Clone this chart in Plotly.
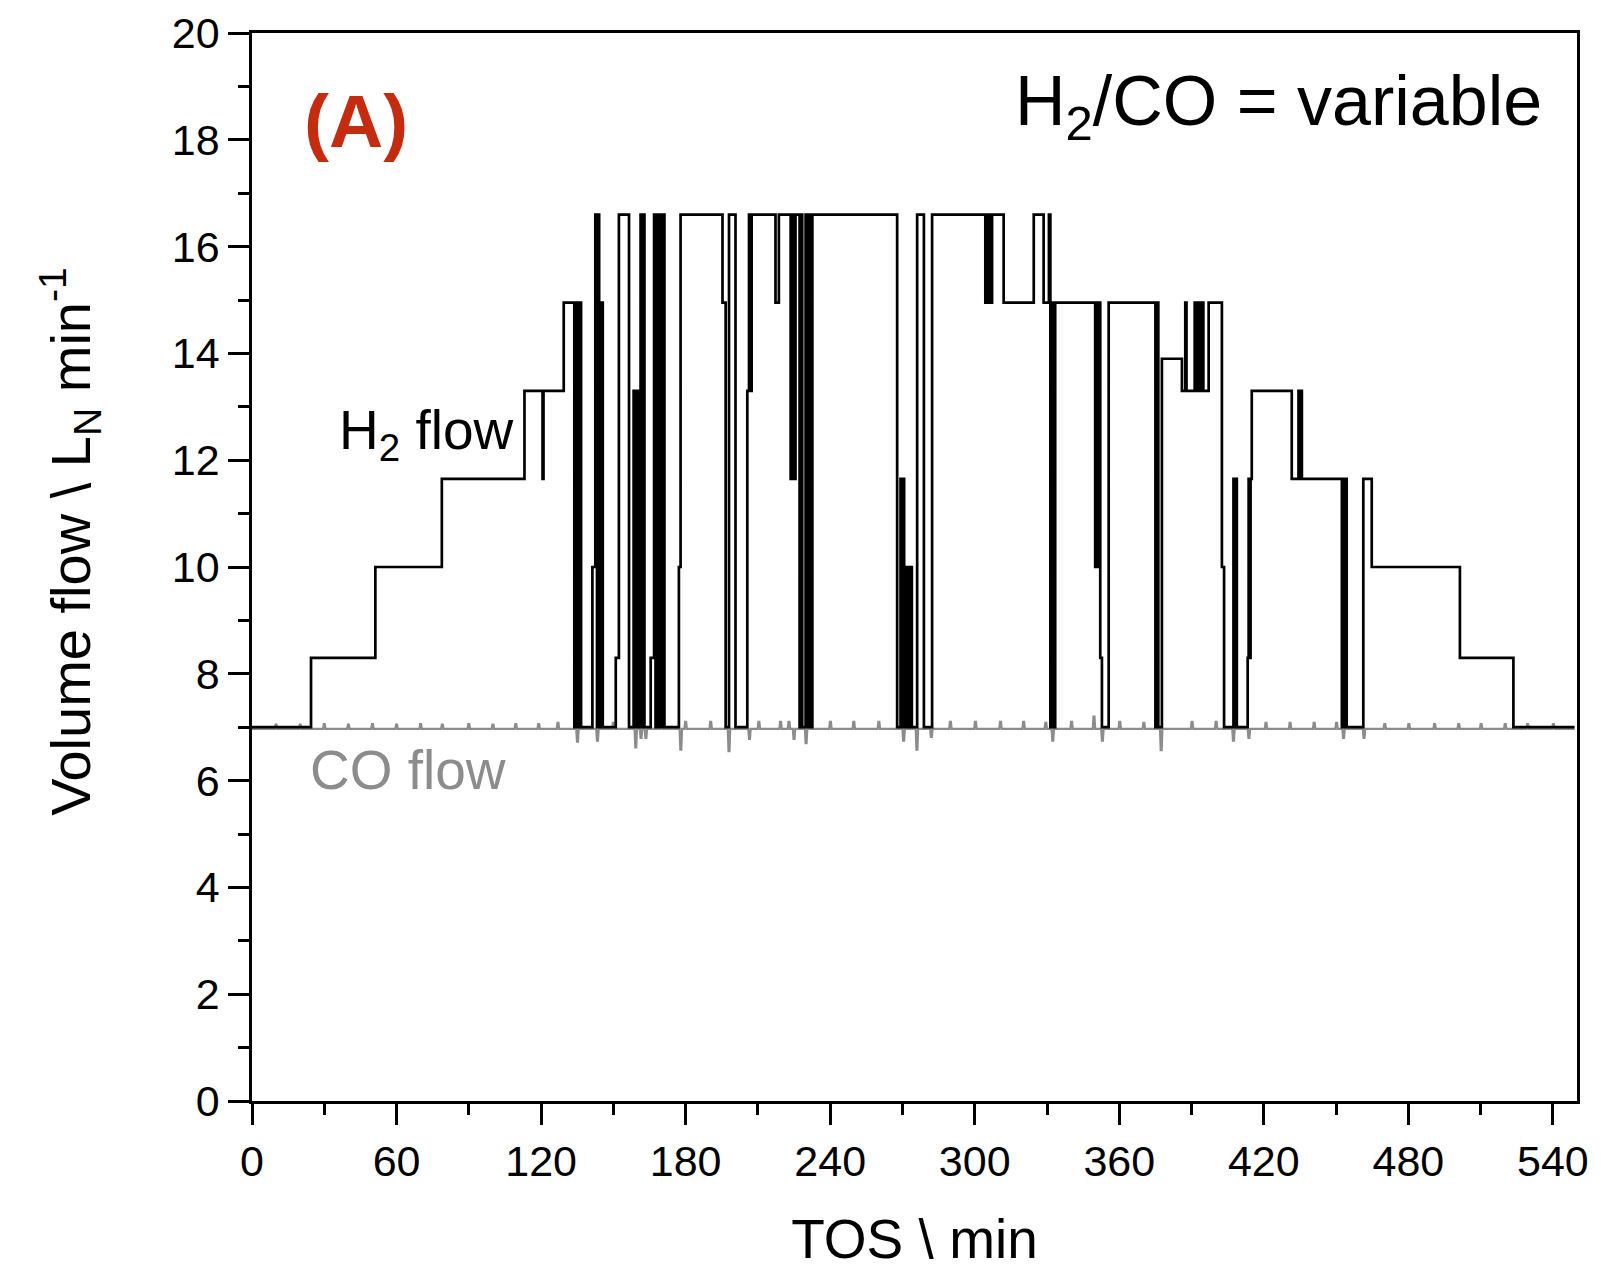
import plotly.graph_objects as go

# ---------------- data ----------------
# H2 flow: step changes (time in min, value in L_N/min valid from that time on)
h2_time = [0, 24.5, 51.2, 78.8, 113.1, 120.6, 121.0, 129.4,
           133.8, 134.5, 135.2, 135.9, 136.6,
           141.3, 142.5, 143.2, 143.6, 144.1, 144.6, 145.1, 145.6,
           151.0, 152.3, 156.5,
           158.4, 158.9, 159.4, 159.9, 160.4, 160.9,
           161.3, 162.0, 162.4, 162.9,
           165.5, 166.9, 167.5, 168.0, 169.0, 169.5, 170.4, 170.9, 171.2,
           177.2, 177.9,
           195.3, 196.6, 198.0, 200.7,
           205.6, 206.3, 206.8, 207.4,
           217.3, 218.7,
           223.6, 224.3, 224.9, 225.6,
           227.3, 227.9, 228.4, 229.8, 230.5, 231.2, 231.8, 232.6,
           267.8,
           269.2, 269.7, 270.2, 270.7, 271.3, 271.8, 272.3, 272.8, 273.3, 273.9,
           276.1, 278.9, 282.3,
           304.4, 305.0, 305.5, 306.1, 306.6, 307.2,
           312.0, 324.5, 328.6, 330.8, 331.4, 332.0, 332.6, 333.4,
           350.0, 350.5, 351.0, 351.5, 352.1, 352.8, 355.6,
           375.0, 375.6, 376.2, 377.7,
           386.0, 387.4, 387.9,
           391.3, 391.8, 392.3, 392.8, 393.3, 393.8, 394.4, 394.9,
           397.1, 402.6, 403.5,
           407.4, 407.9, 408.3, 408.8,
           413.3, 413.7, 414.1, 414.5, 415.0,
           431.6, 434.4, 434.9, 435.3, 435.8,
           452.4, 452.9, 453.4, 453.9, 454.4,
           461.3, 464.8, 501.4, 523.6, 549.0]
h2_flow = [7.0, 8.3, 10.0, 11.65, 13.3, 11.65, 13.3, 14.95,
           7.0, 14.95, 7.0, 14.95, 7.0,
           10.0, 16.6, 7.0, 16.6, 14.95, 7.0, 14.95, 7.0,
           8.3, 16.6, 7.0,
           13.3, 7.0, 13.3, 7.0, 13.3, 7.0,
           16.6, 7.0, 16.6, 7.0,
           8.3, 16.6, 7.0, 16.6, 7.0, 16.6, 7.0, 16.6, 7.0,
           10.0, 16.6,
           14.95, 7.0, 16.6, 7.0,
           13.3, 16.6, 13.3, 16.6,
           14.95, 16.6,
           11.65, 16.6, 11.65, 16.6,
           7.0, 16.6, 7.0, 16.6, 7.0, 16.6, 7.0, 16.6,
           7.0,
           11.65, 7.0, 11.65, 7.0, 10.0, 7.0, 10.0, 7.0, 10.0, 7.0,
           16.6, 7.0, 16.6,
           14.95, 16.6, 14.95, 16.6, 14.95, 16.6,
           14.95, 16.6, 14.95, 16.6, 7.0, 14.95, 7.0, 14.95,
           10.0, 14.95, 10.0, 14.95, 8.3, 7.0, 14.95,
           7.0, 14.95, 7.0, 13.9,
           13.3, 14.95, 13.3,
           14.95, 13.3, 14.95, 13.3, 14.95, 13.3, 14.95, 13.3,
           14.95, 10.0, 7.0,
           11.65, 7.0, 11.65, 7.0,
           8.3, 11.65, 8.3, 11.65, 13.3,
           11.65, 13.3, 11.65, 13.3, 11.65,
           7.0, 11.65, 7.0, 11.65, 7.0,
           11.65, 10.0, 8.3, 7.0, 7.0]

# CO flow: nearly constant with small upward bumps and downward spikes
co_base = 6.97
co_event_time = [10, 20, 30, 40, 50, 60, 70, 79, 90, 100, 109.5, 119, 127,
                 135.1, 143.4, 150, 159.3, 161.5, 163.5, 170, 178, 180, 190.4,
                 198, 206.5, 210.4, 219.4, 222.9, 225, 230, 240.1, 249.8,
                 260.2, 270.5, 276, 282, 289.9, 300.3, 310.7, 320.3, 329.5,
                 332.4, 340.2, 349.5, 353, 360.2, 370.2, 377.4, 390.2, 400.2,
                 407.4, 413.8, 420.9, 430.9, 440.9, 450.2, 453.1, 461.6,
                 470.2, 480.2, 490.9, 500.9, 510.2, 520.2, 529.5, 540.2]
co_event_flow = [7.05, 7.05, 7.06, 7.05, 7.06, 7.05, 7.06, 7.05, 7.06, 7.05, 7.06, 7.06, 7.08,
                 6.73, 6.75, 7.08, 6.62, 6.8, 6.8, 7.08, 6.58, 7.1, 7.1,
                 6.55, 6.78, 7.1, 7.1, 7.1, 6.78, 6.7, 7.1, 7.1,
                 7.1, 6.75, 6.58, 6.82, 7.1, 7.1, 7.1, 7.1, 7.08,
                 6.75, 7.1, 7.2, 6.75, 7.1, 7.08, 6.57, 7.1, 7.1,
                 6.75, 6.8, 7.08, 7.08, 7.08, 7.08, 6.8, 6.8,
                 7.06, 7.06, 7.06, 7.06, 7.06, 7.06, 7.06, 7.06]
co_start, co_end = 0, 549

x_ticks = [0, 60, 120, 180, 240, 300, 360, 420, 480, 540]
y_ticks = [0, 2, 4, 6, 8, 10, 12, 14, 16, 18, 20]

# ---------------- build CO polyline from the listed events ----------------
co_t, co_v = [co_start], [co_base]
for t, v in zip(co_event_time, co_event_flow):
    co_t += [t - 0.5, t - 0.2, t + 0.2, t + 0.5]
    co_v += [co_base, v, v, co_base]
co_t.append(co_end)
co_v.append(co_base)

FONT = "Liberation Sans, Arial, sans-serif"

fig = go.Figure()
fig.add_trace(go.Scatter(x=co_t, y=co_v, mode="lines",
                         line=dict(color="#8c8c8c", width=2.2), hoverinfo="skip",
                         showlegend=False))
fig.add_trace(go.Scatter(x=h2_time, y=h2_flow, mode="lines",
                         line=dict(color="black", width=2.7, shape="hv"),
                         showlegend=False))

axis_common = dict(
    showline=True, linecolor="black", linewidth=2.5, mirror=True,
    ticks="outside", ticklen=21, tickwidth=2.5, tickcolor="black",
    showgrid=False, zeroline=False,
    tickfont=dict(family=FONT, size=43, color="black"),
)

fig.update_xaxes(range=[0, 550], tickvals=x_ticks, ticktext=[str(v) for v in x_ticks],
                 minor=dict(dtick=30, tick0=0, ticks="outside", ticklen=11,
                            tickwidth=2.5, tickcolor="black"),
                 title=dict(text="TOS \\ min", font=dict(family=FONT, size=55, color="black"),
                            standoff=37),
                 **axis_common)
fig.update_yaxes(range=[0, 20], tickvals=y_ticks, ticktext=[str(v) for v in y_ticks],
                 minor=dict(dtick=1, tick0=0, ticks="outside", ticklen=11,
                            tickwidth=2.5, tickcolor="black"),
                 **axis_common)

# y-axis title as a rotated annotation (placed slightly above the axis centre, as in the reference)
fig.add_annotation(xref="paper", yref="paper", x=-0.137, y=0.524, xanchor="center", yanchor="middle",
                   text="Volume flow \\ L<sub>N</sub> min<sup>-1</sup>", textangle=-90,
                   showarrow=False, font=dict(family=FONT, size=56, color="black"))

fig.add_annotation(xref="paper", yref="paper", x=0.038, y=0.918, xanchor="left", yanchor="middle",
                   text="<b>(A)</b>", showarrow=False,
                   font=dict(family=FONT, size=75, color="#C52B0E"))
fig.add_annotation(xref="paper", yref="paper", x=0.975, y=0.932, xanchor="right", yanchor="middle",
                   text="H<sub>2</sub>/CO = variable", showarrow=False,
                   font=dict(family=FONT, size=70, color="black"))
fig.add_annotation(xref="paper", yref="paper", x=0.064, y=0.625, xanchor="left", yanchor="middle",
                   text="H<sub>2</sub> flow", showarrow=False,
                   font=dict(family=FONT, size=55, color="black"))
fig.add_annotation(xref="paper", yref="paper", x=0.042, y=0.31, xanchor="left", yanchor="middle",
                   text="CO flow", showarrow=False,
                   font=dict(family=FONT, size=55, color="#8c8c8c"))

fig.update_layout(width=1606, height=1262,
                  margin=dict(l=244, r=37, t=25, b=169, autoexpand=False),
                  paper_bgcolor="white", plot_bgcolor="white",
                  font=dict(family=FONT, color="black"))

fig.write_html("out.html")
